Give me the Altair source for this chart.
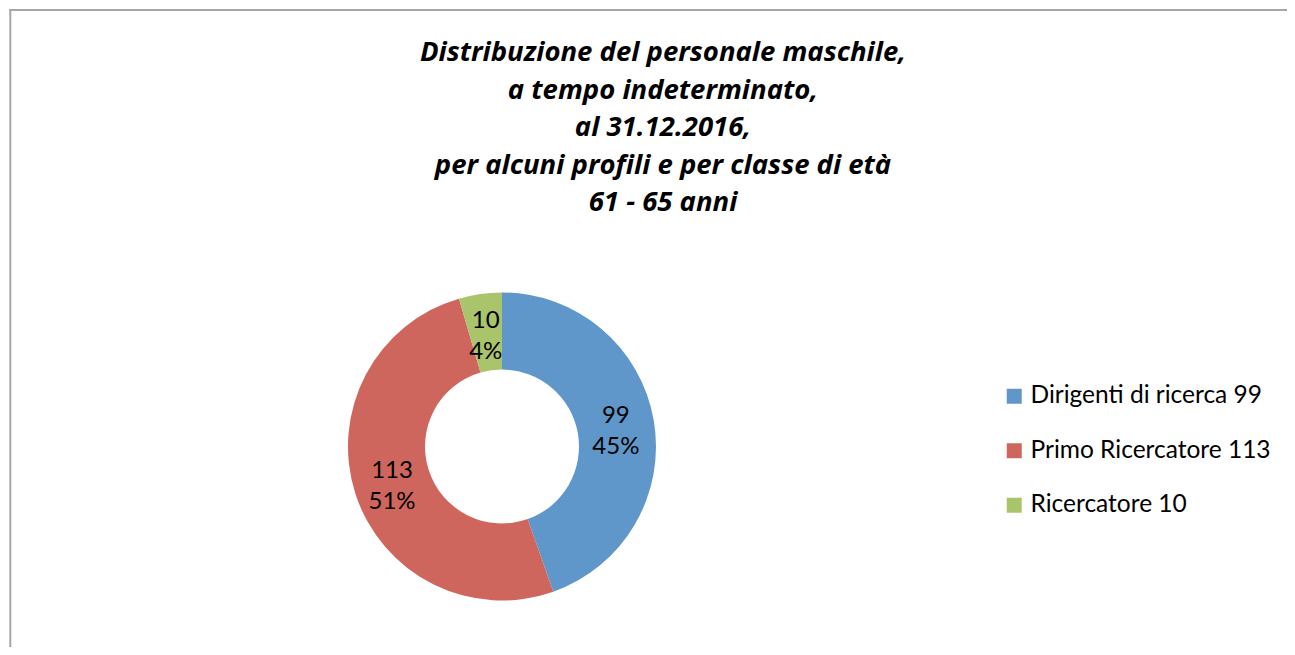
import altair as alt
import pandas as pd

# Data
categories = ["Dirigenti di ricerca", "Primo Ricercatore", "Ricercatore"]
values = [99, 113, 10]
percent_labels = ["45%", "51%", "4%"]
colors = ["#6097CB", "#CE665E", "#A9C46B"]
title_lines = [
    "Distribuzione del personale maschile,",
    "a tempo indeterminato,",
    "al 31.12.2016,",
    "per alcuni profili e per classe di età",
    "61 - 65 anni",
]

FONT = "Lato"
TITLE_FONT = "Open Sans"

df = pd.DataFrame({
    "cat": [f"{c} {v}" for c, v in zip(categories, values)],
    "value": values,
    "label": [f"{v}\n{p}" for v, p in zip(values, percent_labels)],
    "order": list(range(len(values))),
})
legend_domain = list(df["cat"])

W, H = 1279, 639
CX, CY = 494, 438.5

base = alt.Chart(df).encode(
    theta=alt.Theta("value:Q", stack=True),
    order=alt.Order("order:Q"),
)

arcs = base.mark_arc(outerRadius=154, innerRadius=77, stroke=None).encode(
    color=alt.Color(
        "cat:N",
        scale=alt.Scale(domain=legend_domain, range=colors),
        sort=legend_domain,
        legend=alt.Legend(
            orient="none",
            legendX=994,
            legendY=376,
            title=None,
            symbolType="square",
            symbolSize=225,
            symbolStrokeWidth=0,
            labelFont=FONT,
            labelFontSize=24.5,
            labelLimit=0,
            labelColor="#000000",
            labelOffset=4,
            rowPadding=29.5,
            padding=0,
        ),
    ),
    x=alt.value(CX),
    y=alt.value(CY),
)

labels = base.mark_text(
    radius=115.5,
    font=FONT,
    fontSize=24,
    lineBreak="\n",
    lineHeight=31,
    align="center",
    baseline="middle",
    dy=-11,
    color="#000000",
).encode(
    text="label:N",
    x=alt.value(CX),
    y=alt.value(CY),
)

title_df = pd.DataFrame({"t": ["\n".join(title_lines)]})
title = alt.Chart(title_df).mark_text(
    font=TITLE_FONT,
    fontSize=27.5,
    fontStyle="italic",
    fontWeight="bold",
    lineBreak="\n",
    lineHeight=37.5,
    align="center",
    baseline="alphabetic",
    color="#000000",
).encode(text="t:N", x=alt.value(655), y=alt.value(53))

border_df = pd.DataFrame({"a": [0]})
top_rule = alt.Chart(border_df).mark_rule(color="#A6A6A6", strokeWidth=2).encode(
    x=alt.value(1.5), x2=alt.value(W), y=alt.value(2)
)
left_rule = alt.Chart(border_df).mark_rule(color="#A6A6A6", strokeWidth=2).encode(
    x=alt.value(2.3), y=alt.value(1), y2=alt.value(H)
)

chart = alt.layer(top_rule, left_rule, arcs, labels, title).properties(
    width=W,
    height=H,
    autosize=alt.AutoSizeParams(type="none"),
    padding=0,
).configure_view(stroke=None)

chart.save("out.html", embed_options={"renderer": "svg", "actions": False})
